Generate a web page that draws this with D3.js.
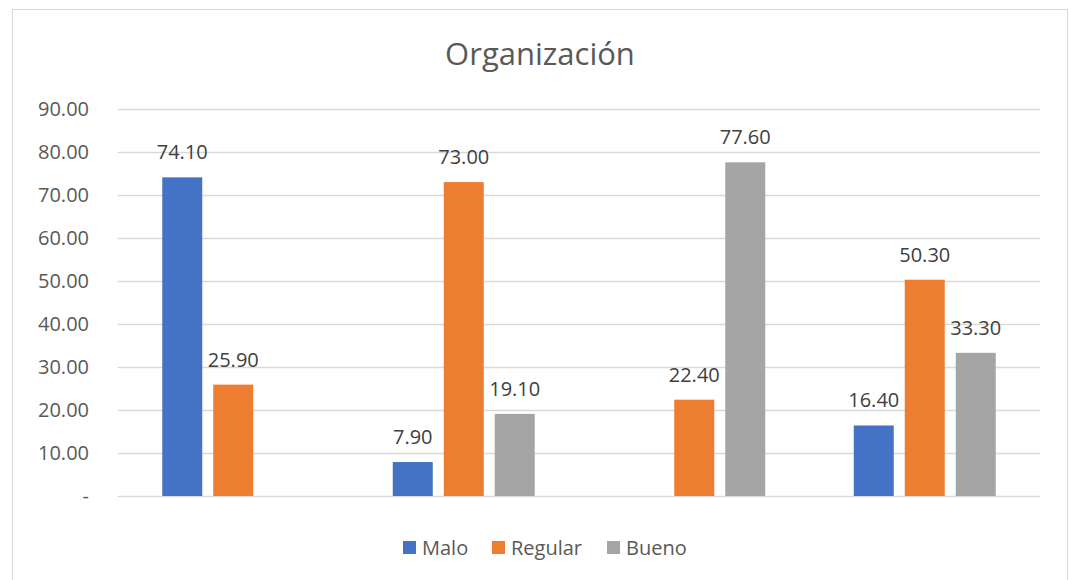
<!DOCTYPE html>
<html><head><meta charset="utf-8">
<script src="https://cdn.jsdelivr.net/npm/d3@7"></script>
<style>html,body{margin:0;padding:0;background:#fff;}svg{display:block;font-family:"Open Sans",sans-serif;}</style>
</head><body><div id="chart"></div>
<script>
const title = "Organización";
const groups = [1, 2, 3, 4];
const seriesNames = ["Malo", "Regular", "Bueno"];
const malo    = [74.10, 7.90, null, 16.40];
const regular = [25.90, 73.00, 22.40, 50.30];
const bueno   = [null, 19.10, 77.60, 33.30];
const yTicks = [0, 10, 20, 30, 40, 50, 60, 70, 80, 90];
const colors = ["#4472C4", "#ED7D31", "#A5A5A5"];

const W = 1069, H = 580;
const m = {left: 118, right: 1040, top: 109, bottom: 496};
const svg = d3.select("#chart").append("svg").attr("width", W).attr("height", H);

svg.append("rect").attr("x", 12.5).attr("y", 9.5).attr("width", 1055).attr("height", 580)
  .attr("fill", "#fff").attr("stroke", "#D9D9D9").attr("stroke-width", 1);

svg.append("text").attr("x", 540).attr("y", 65).attr("text-anchor", "middle")
  .attr("font-size", 31).attr("fill", "#595959").text(title);

const y = d3.scaleLinear().domain([0, 90]).range([m.bottom, m.top]);
const x0 = d3.scaleBand().domain(groups).range([m.left, m.right]).paddingInner(0.384).paddingOuter(0.192);
const x1 = d3.scaleBand().domain(seriesNames).range([0, x0.bandwidth()]).paddingInner(0.2157).paddingOuter(0);

const yAxis = d3.axisLeft(y).tickValues(yTicks).tickSize(-(m.right - m.left))
  .tickFormat(d => d === 0 ? "-" : d3.format(".2f")(d));
const ga = svg.append("g").attr("transform", `translate(${m.left},0)`).call(yAxis);
ga.select(".domain").remove();
ga.selectAll(".tick line").attr("stroke", "#D9D9D9").attr("stroke-width", 1.3);
ga.selectAll(".tick text").attr("x", -29).attr("font-size", 20).attr("fill", "#595959")
  .attr("font-family", "'Open Sans',sans-serif");

const values = [malo, regular, bueno];
const data = [];
groups.forEach((g, i) => seriesNames.forEach((s, j) => {
  if (values[j][i] != null) data.push({g, s, v: values[j][i], c: colors[j]});
}));

svg.append("g").selectAll("rect").data(data).join("rect")
  .attr("x", d => x0(d.g) + x1(d.s)).attr("width", x1.bandwidth())
  .attr("y", d => y(d.v)).attr("height", d => y(0) - y(d.v)).attr("fill", d => d.c);

svg.append("g").selectAll("text").data(data).join("text")
  .attr("x", d => x0(d.g) + x1(d.s) + x1.bandwidth() / 2).attr("y", d => y(d.v) - 18)
  .attr("text-anchor", "middle").attr("font-size", 20).attr("fill", "#404040")
  .text(d => d3.format(".2f")(d.v));

const legX = [403, 492, 607];
const lg = svg.append("g").selectAll("g").data(seriesNames).join("g")
  .attr("transform", (d, i) => `translate(${legX[i]},541)`);
lg.append("rect").attr("width", 13).attr("height", 13).attr("fill", (d, i) => colors[i]);
lg.append("text").attr("x", 19).attr("y", 14).attr("font-size", 20).attr("fill", "#595959").text(d => d);
</script></body></html>
